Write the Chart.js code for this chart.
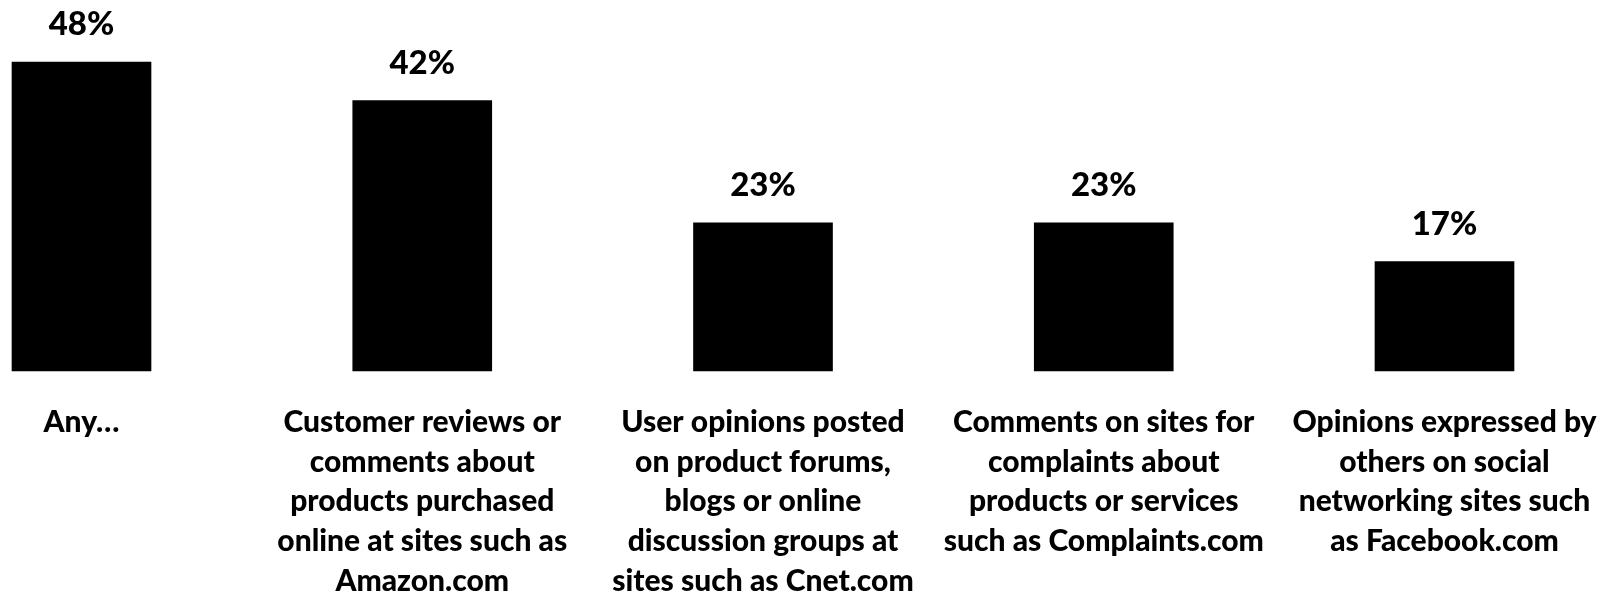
<!DOCTYPE html>
<html>
<head>
<meta charset="utf-8">
<title>Online opinions</title>
<script src="https://cdn.jsdelivr.net/npm/chart.js@4.4.1/dist/chart.umd.min.js"></script>
<style>
  html, body { margin: 0; padding: 0; background: #fff; }
  canvas { display: block; }
</style>
</head>
<body>
<canvas id="myChart" width="1623" height="596"></canvas>
<script>
// Categorias (cada una en varias lineas) y porcentajes
const categories = [
  ['Any…'],
  ['Customer reviews or', 'comments about', 'products purchased', 'online at sites such as', 'Amazon.com'],
  ['User opinions posted', 'on product forums,', 'blogs or online', 'discussion groups at', 'sites such as Cnet.com'],
  ['Comments on sites for', 'complaints about', 'products or services', 'such as Complaints.com'],
  ['Opinions expressed by', 'others on social', 'networking sites such', 'as Facebook.com']
];
const percents = [48, 42, 23, 23, 17];

const FONT = 'Lato, "Open Sans", sans-serif';
const WEIGHT = '900';

// Plugin para escribir el porcentaje encima de cada barra
const valueLabels = {
  id: 'valueLabels',
  afterDatasetsDraw(chart) {
    const ctx = chart.ctx;
    const meta = chart.getDatasetMeta(0);
    ctx.save();
    ctx.font = WEIGHT + ' 33px ' + FONT;
    ctx.fillStyle = '#000';
    ctx.textAlign = 'center';
    ctx.textBaseline = 'alphabetic';
    meta.data.forEach((bar, i) => {
      ctx.fillText(percents[i] + '%', bar.x, bar.y - 27);
    });
    ctx.restore();
  }
};

function drawChart() {
  const ctx = document.getElementById('myChart').getContext('2d');
  new Chart(ctx, {
    type: 'bar',
    data: {
      labels: categories,
      datasets: [{
        data: percents,
        backgroundColor: '#000',
        borderWidth: 0,
        barThickness: 139,
        clip: false
      }]
    },
    options: {
      responsive: false,
      animation: false,
      layout: {
        padding: { left: 81.5, right: 178.5, top: 62, bottom: 0 }
      },
      plugins: {
        legend: { display: false },
        tooltip: { enabled: false }
      },
      scales: {
        x: {
          offset: false,
          grid: { display: false, drawTicks: false },
          border: { display: false },
          ticks: {
            color: '#000',
            padding: 31,
            maxRotation: 0,
            autoSkip: false,
            font: { family: FONT, size: 30, weight: WEIGHT, lineHeight: 1.33 }
          },
          afterFit: (scale) => {
            // alto fijo del eje y sin relleno extra por las etiquetas de los extremos
            scale.height = 225;
            scale.paddingLeft = 0;
            scale.paddingRight = 0;
          }
        },
        y: {
          display: false,
          min: 0,
          max: 48
        }
      }
    },
    plugins: [valueLabels]
  });
}

if (document.fonts && document.fonts.load) {
  Promise.all([
    document.fonts.load(WEIGHT + ' 30px Lato'),
    document.fonts.load(WEIGHT + ' 33px Lato')
  ]).then(drawChart, drawChart);
} else {
  drawChart();
}
</script>
</body>
</html>
